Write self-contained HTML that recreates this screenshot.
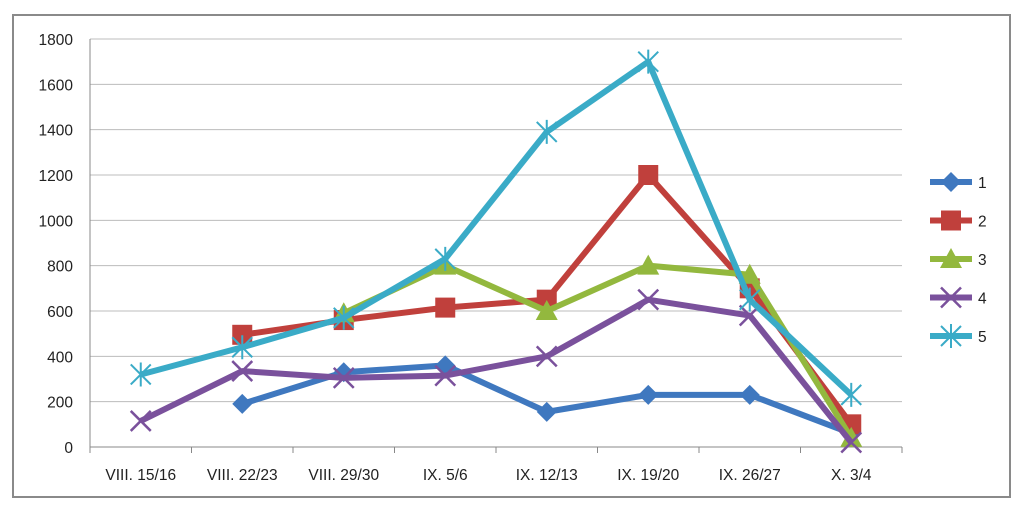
<!DOCTYPE html>
<html><head><meta charset="utf-8"><style>
body{margin:0;background:#fff;}
svg text{font-family:"Liberation Sans",sans-serif;font-size:15.5px;fill:#222;}
</style></head><body>
<svg id="chart" width="1024" height="512" xmlns="http://www.w3.org/2000/svg">
<rect x="13" y="15" width="997" height="482" fill="#fff" stroke="#8a8a8a" stroke-width="2"/>
<g id="grid"></g><g id="axes"></g><g id="series"></g><g id="legend"></g>
</svg>
<script>
const categories=["VIII. 15/16","VIII. 22/23","VIII. 29/30","IX. 5/6","IX. 12/13","IX. 19/20","IX. 26/27","X. 3/4"];
const yTicks=[0,200,400,600,800,1000,1200,1400,1600,1800];
const seriesNames=["1","2","3","4","5"];
const s1=[null,190,330,360,155,230,230,60];
const s2=[null,495,560,615,650,1200,700,100];
const s3=[null,null,590,800,600,800,760,40];
const s4=[115,335,305,315,400,650,580,20];
const s5=[320,440,570,830,1390,1700,650,230];
const seriesData=[s1,s2,s3,s4,s5];
const colors=["#3f78bf","#c0403c","#93b83e","#7a519c","#3aabc7"];
const markers=["diamond","square","triangle","x","star"];
const NS="http://www.w3.org/2000/svg";
const X0=90,X1=902,Y0=447,Y1=39,YMAX=1800;
const band=(X1-X0)/categories.length;
const xs=i=>X0+band*(i+0.5);
const ys=v=>Y0-(v/YMAX)*(Y0-Y1);
function el(t,a,p){const e=document.createElementNS(NS,t);for(const k in a)e.setAttribute(k,a[k]);p.appendChild(e);return e;}
const grid=document.getElementById('grid'),axes=document.getElementById('axes'),ser=document.getElementById('series'),leg=document.getElementById('legend');
yTicks.forEach(v=>{
 const l=el('line',{x1:X0,x2:X1,y1:ys(v),y2:ys(v),stroke:v===0?'#888':'#bcbcbc','stroke-width':1},grid);
 
 
 const t=el('text',{x:X0-17,y:ys(v)+6,'text-anchor':'end'},axes);t.textContent=v;
 
 
});
const ax=el('line',{x1:X0,x2:X0,y1:Y1,y2:Y0,stroke:'#888'},axes);


for(let i=0;i<=categories.length;i++){
 const tk=el('line',{x1:X0+band*i,x2:X0+band*i,y1:Y0,y2:Y0+6,stroke:'#888'},axes);
 
 
}
categories.forEach((c,i)=>{
 const t=el('text',{x:xs(i),y:Y0+33,'text-anchor':'middle'},axes);t.textContent=c;
 
 
});
function marker(type,x,y,c,g){
 let m;
 if(type==='diamond')m=el('polygon',{points:`${x},${y-10} ${x+10},${y} ${x},${y+10} ${x-10},${y}`,fill:c},g);
 else if(type==='square')m=el('rect',{x:x-10,y:y-10,width:20,height:20,fill:c},g);
 else if(type==='triangle')m=el('polygon',{points:`${x},${y-11} ${x+11},${y+9} ${x-11},${y+9}`,fill:c},g);
 else if(type==='x')m=el('path',{d:`M${x-10},${y-10}L${x+10},${y+10}M${x-10},${y+10}L${x+10},${y-10}`,stroke:c,'stroke-width':2.5},g);
 else m=el('path',{d:`M${x-10},${y-10}L${x+10},${y+10}M${x-10},${y+10}L${x+10},${y-10}M${x},${y-12}L${x},${y+12}`,stroke:c,'stroke-width':2},g);
 
 
}
seriesData.forEach((d,si)=>{
 const g=el('g',{},ser);
 
 
 let pts=[];d.forEach((v,i)=>{if(v!==null)pts.push([xs(i),ys(v)]);});
 const p=el('polyline',{points:pts.map(p=>p.join(',')).join(' '),fill:'none',stroke:colors[si],'stroke-width':6,'stroke-linejoin':'round'},g);
 
 
 pts.forEach(q=>marker(markers[si],q[0],q[1],colors[si],g));
 const ly=182+si*38.5;
 const lg=el('g',{},leg);
 
 
 const ll=el('line',{x1:930,x2:972,y1:ly,y2:ly,stroke:colors[si],'stroke-width':6},lg);
 marker(markers[si],951,ly,colors[si],lg);
 const t=el('text',{x:978,y:ly+6},lg);t.textContent=seriesNames[si];
});
</script>
</body></html>
